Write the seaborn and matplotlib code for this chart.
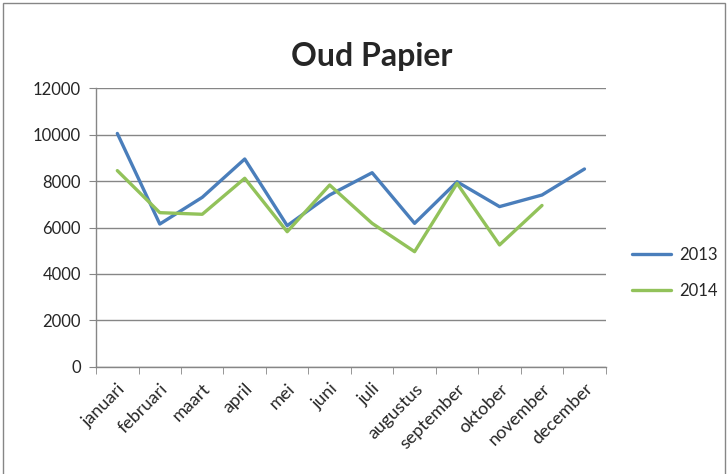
import matplotlib
matplotlib.use("Agg")
import matplotlib.pyplot as plt
import numpy as np
import pandas as pd
import seaborn as sns
from matplotlib.patches import Rectangle

# Gegevens uit de grafiek (geschat)
maanden = ["januari", "februari", "maart", "april", "mei", "juni", "juli",
           "augustus", "september", "oktober", "november", "december"]
waarden_2013 = [10050, 6150, 7300, 8950, 6080, 7400, 8360, 6180, 7970, 6900, 7400, 8520]
waarden_2014 = [8450, 6640, 6570, 8120, 5820, 7830, 6180, 4960, 7900, 5250, 6950]

rows = []
for i, v in enumerate(waarden_2013):
    rows.append({"maand": i, "waarde": v, "jaar": "2013"})
for i, v in enumerate(waarden_2014):
    rows.append({"maand": i, "waarde": v, "jaar": "2014"})
df = pd.DataFrame(rows)

sns.set_style("white")
plt.rcParams["font.family"] = ["Lato", "DejaVu Sans"]

fig = plt.figure(figsize=(7.28, 4.74), dpi=100)
ax = fig.add_axes([0.132, 0.226, 0.70, 0.588])

sns.lineplot(data=df, x="maand", y="waarde", hue="jaar",
             palette={"2013": "#4A7EBB", "2014": "#92C25A"},
             linewidth=2.4, ax=ax, legend=False)

ax.set_xlim(-0.5, 11.5)
ax.set_ylim(0, 12000)
ax.set_yticks(np.arange(0, 12001, 2000))
ax.set_yticklabels([str(v) for v in range(0, 12001, 2000)], fontsize=12)
ax.set_xticks(range(12))
ax.set_xticklabels(maanden, rotation=45, ha="right", rotation_mode="anchor", fontsize=13)
ax.set_xticks(np.arange(-0.5, 12, 1), minor=True)
ax.tick_params(axis="x", which="major", length=0, pad=10)
ax.tick_params(axis="x", which="minor", length=5, color="#868686", bottom=True)
ax.tick_params(axis="y", length=5, color="#868686", left=True, pad=6)
ax.set_xlabel("")
ax.set_ylabel("")

ax.grid(axis="y", color="#868686", linewidth=1)
ax.set_axisbelow(True)
for side in ["top", "right"]:
    ax.spines[side].set_visible(False)
for side in ["left", "bottom"]:
    ax.spines[side].set_color("#868686")
    ax.spines[side].set_linewidth(1)

ax.set_title("Oud Papier", fontsize=23, fontweight="bold", pad=16, x=0.54)

handles = [plt.Line2D([], [], color="#4A7EBB", linewidth=2.4),
           plt.Line2D([], [], color="#92C25A", linewidth=2.4)]
fig.legend(handles, ["2013", "2014"], loc="center left",
           bbox_to_anchor=(0.848, 0.424), frameon=False, fontsize=12,
           handlelength=2.3, handletextpad=0.5, labelspacing=1.2)

fig.patches.append(Rectangle((0.004, -0.01), 0.992, 1.004, transform=fig.transFigure,
                             fill=False, edgecolor="#868686", linewidth=1))

fig.savefig("out.png", dpi=100)
